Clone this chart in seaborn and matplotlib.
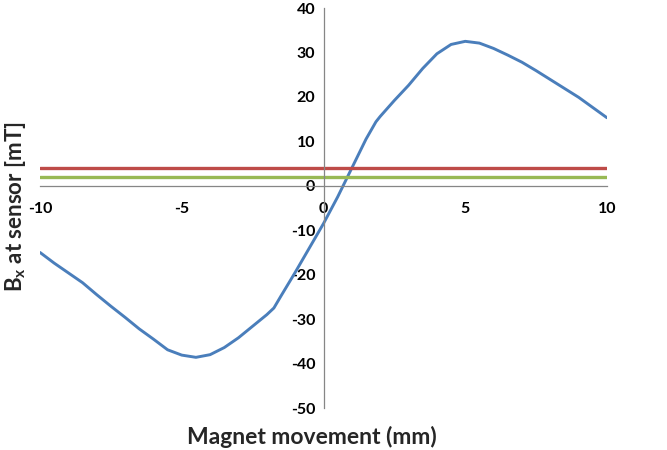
import matplotlib
matplotlib.use("Agg")
import matplotlib.pyplot as plt
import seaborn as sns
import numpy as np

# ---- data ----
movement_mm = [-10, -9.5, -9, -8.5, -8, -7.5, -7, -6.5, -6, -5.5, -5, -4.5, -4, -3.5,
               -3, -2.5, -2, -1.75, -1.5, -1, -0.5, 0, 0.5, 1, 1.5, 1.85, 2, 2.5,
               3, 3.5, 4, 4.5, 5, 5.5, 6, 6.5, 7, 7.5, 8, 8.5, 9, 9.5, 10]
bx_mT = [-15.0, -17.4, -19.6, -21.8, -24.5, -27.1, -29.6, -32.2, -34.5, -36.9, -38.1,
         -38.6, -38.0, -36.4, -34.2, -31.6, -29.0, -27.5, -24.8, -19.5, -14.0, -8.5,
         -2.5, 4.0, 10.5, 14.4, 15.6, 19.2, 22.6, 26.4, 29.7, 31.8, 32.5, 32.1, 30.9,
         29.4, 27.8, 25.9, 23.9, 21.9, 19.9, 17.6, 15.3]
level_x = [-10, 10]
red_level = [4, 4]
green_level = [2, 2]
x_ticks = [-10, -5, 0, 5, 10]
y_ticks = [-50, -40, -30, -20, -10, 0, 10, 20, 30, 40]

sns.set_theme(style="white")
plt.rcParams['font.family'] = ['Lato', 'DejaVu Sans']
plt.rcParams['font.weight'] = 'bold'
plt.rcParams['mathtext.fontset'] = 'custom'
plt.rcParams['mathtext.rm'] = 'Lato:bold'
plt.rcParams['mathtext.it'] = 'Lato:bold'
plt.rcParams['mathtext.bf'] = 'Lato:bold'

fig = plt.figure(figsize=(6.67, 4.5), dpi=100)
ax = fig.add_axes([40/667, 1-408/450, (607-40)/667, (408-8)/450])

sns.lineplot(x=movement_mm, y=bx_mT, ax=ax, color='#4A7EBB', lw=2.1, estimator=None,
             sort=False, solid_joinstyle='round', solid_capstyle='round')
sns.lineplot(x=level_x, y=red_level, ax=ax, color='#BE4B48', lw=2.4, estimator=None)
sns.lineplot(x=level_x, y=green_level, ax=ax, color='#98B954', lw=2.4, estimator=None)

ax.set_xlim(-10, 10)
ax.set_ylim(-50, 40)
ax.set_xticks(x_ticks)
ax.set_yticks(y_ticks)
ax.set_xticklabels([str(t) for t in x_ticks])
ax.set_yticklabels([str(t) for t in y_ticks])

for side in ['top', 'right']:
    ax.spines[side].set_visible(False)
ax.spines['left'].set_position(('data', 0))
ax.spines['bottom'].set_position(('data', 0))
for side in ['left', 'bottom']:
    ax.spines[side].set_color('#868686')
    ax.spines[side].set_linewidth(0.9)

ax.tick_params(axis='both', direction='out', length=4, width=0.9, color='#868686',
               labelsize=11.5, labelcolor='black')
ax.tick_params(axis='x', pad=8)
ax.tick_params(axis='y', pad=2)
ax.grid(False)
ax.set_facecolor('white')

ax.set_xlabel('')
ax.set_ylabel('')
fig.text(312/667, 1-437/450, 'Magnet movement (mm)', ha='center', va='center',
         fontsize=16.5, fontweight='bold')
fig.text(16/667, 1-207/450, r'B$_{x}$ at sensor [mT]', ha='center', va='center',
         rotation=90, fontsize=16, fontweight='bold')

fig.savefig('out.png', dpi=100, facecolor='white')
